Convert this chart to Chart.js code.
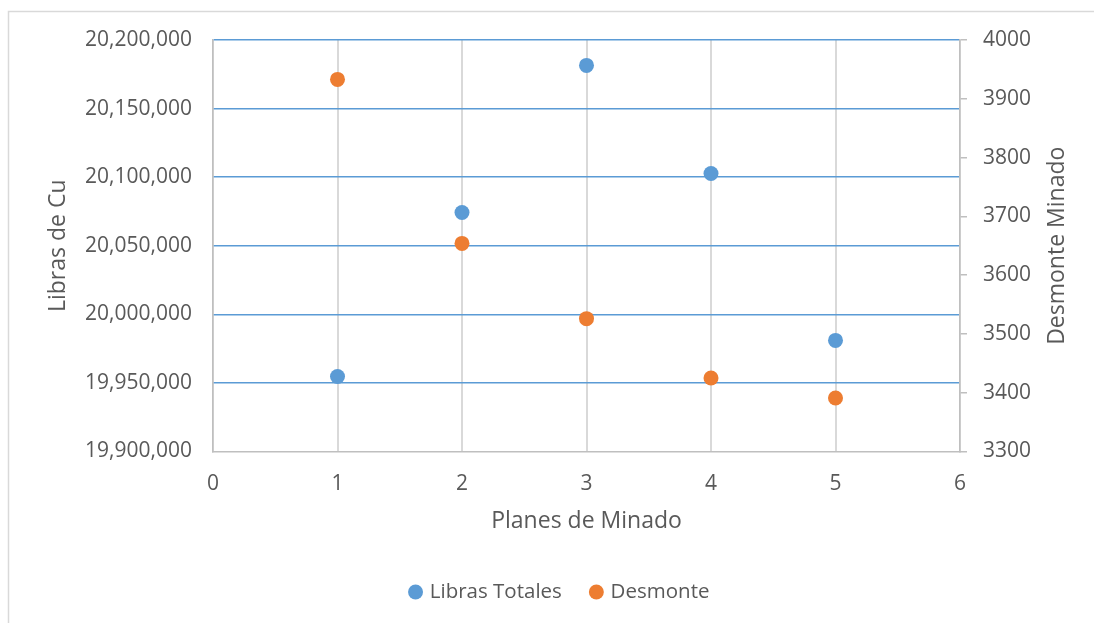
<!DOCTYPE html>
<html>
<head>
<meta charset="utf-8">
<script src="https://cdn.jsdelivr.net/npm/chart.js@4/dist/chart.umd.min.js"></script>
<style>
  html, body { margin: 0; padding: 0; background: #ffffff; }
  #wrap { width: 1094px; height: 623px; position: relative; }
</style>
</head>
<body>
<div id="wrap"><canvas id="c" width="1094" height="623"></canvas></div>
<script>
// Planes de minado (eje X)
const planes = [1, 2, 3, 4, 5];
// Libras totales de cobre por plan (eje izquierdo)
const librasTotales = [19954700, 20074200, 20181500, 20102700, 19981000];
// Desmonte minado por plan (eje derecho)
const desmonte = [3933, 3654, 3526, 3425, 3391];

const xTicks = [0, 1, 2, 3, 4, 5, 6];
const leftTicks = [19900000, 19950000, 20000000, 20050000, 20100000, 20150000, 20200000];
const rightTicks = [3300, 3400, 3500, 3600, 3700, 3800, 3900, 4000];

const serieNames = ['Libras Totales', 'Desmonte'];
const axisTitles = { x: 'Planes de Minado', y: 'Libras de Cu', y1: 'Desmonte Minado' };

const BLUE = '#5B9BD5';
const ORANGE = '#ED7D31';
const TEXT = '#595959';
const AXIS = '#BFBFBF';
const GRID = '#D9D9D9';
const FONT = "'Open Sans', 'Liberation Sans', sans-serif";
const TICK_FONT = { family: FONT, size: 21 };
const TITLE_FONT = { family: FONT, size: 23 };

const fmt = v => Number(v).toLocaleString('en-US');

// Outer chart frame and right-hand axis title (reads bottom to top)
const decorations = {
  id: 'decorations',
  beforeDraw(chart) {
    const ctx = chart.ctx;
    ctx.save();
    ctx.strokeStyle = GRID;
    ctx.lineWidth = 1.5;
    ctx.beginPath();
    ctx.moveTo(8.5, chart.height);
    ctx.lineTo(8.5, 11.5);
    ctx.lineTo(chart.width, 11.5);
    ctx.stroke();
    ctx.restore();
  },
  afterDraw(chart) {
    const s = chart.scales.y1;
    const ctx = chart.ctx;
    ctx.save();
    ctx.translate(s.right - 37, (s.top + s.bottom) / 2);
    ctx.rotate(-Math.PI / 2);
    ctx.fillStyle = TEXT;
    ctx.font = TITLE_FONT.size + "px " + FONT;
    ctx.textAlign = 'center';
    ctx.textBaseline = 'middle';
    ctx.fillText(axisTitles.y1, 0, 0);
    ctx.restore();
  }
};

new Chart(document.getElementById('c'), {
  type: 'scatter',
  data: {
    datasets: [
      {
        label: serieNames[0],
        data: planes.map((p, i) => ({ x: p, y: librasTotales[i] })),
        yAxisID: 'y',
        backgroundColor: BLUE,
        borderColor: BLUE,
        borderWidth: 0,
        pointRadius: 7.5,
        pointHoverRadius: 7.5
      },
      {
        label: serieNames[1],
        data: planes.map((p, i) => ({ x: p, y: desmonte[i] })),
        yAxisID: 'y1',
        backgroundColor: ORANGE,
        borderColor: ORANGE,
        borderWidth: 0,
        pointRadius: 7.5,
        pointHoverRadius: 7.5
      }
    ]
  },
  options: {
    responsive: false,
    animation: false,
    events: [],
    layout: { padding: { top: 40, left: 27, right: 0, bottom: 10.75 } },
    plugins: {
      tooltip: { enabled: false },
      legend: {
        position: 'bottom',
        labels: {
          usePointStyle: true,
          pointStyle: 'circle',
          boxWidth: 8,
          boxHeight: 10.6,
          padding: 30.5,
          color: TEXT,
          font: { family: FONT, size: 20.5 }
        }
      }
    },
    scales: {
      x: {
        type: 'linear',
        min: 0,
        max: 6,
        afterBuildTicks: s => { s.ticks = xTicks.map(v => ({ value: v })); },
        afterFit: s => { s.height = 99.75; },
        ticks: { color: TEXT, font: TICK_FONT, padding: 20 },
        grid: { color: GRID, lineWidth: 2, drawTicks: false },
        border: { color: AXIS, width: 1.5 },
        title: {
          display: true,
          text: axisTitles.x,
          color: TEXT,
          font: TITLE_FONT,
          padding: { top: 0, bottom: 15.5 }
        }
      },
      y: {
        position: 'left',
        min: 19900000,
        max: 20200000,
        afterBuildTicks: s => { s.ticks = leftTicks.map(v => ({ value: v })); },
        afterFit: s => { s.width = 186; },
        ticks: { color: TEXT, font: TICK_FONT, padding: 21, callback: v => fmt(v) },
        grid: {
          color: c => (c.tick && c.tick.value === 19900000 ? 'rgba(0,0,0,0)' : BLUE),
          lineWidth: 1.5,
          drawTicks: false
        },
        border: { color: AXIS, width: 1.5 },
        title: {
          display: true,
          text: axisTitles.y,
          color: TEXT,
          font: TITLE_FONT,
          padding: { top: 17.2, bottom: 0 }
        }
      },
      y1: {
        position: 'right',
        min: 3300,
        max: 4000,
        afterBuildTicks: s => { s.ticks = rightTicks.map(v => ({ value: v })); },
        afterFit: s => { s.width = 134; },
        ticks: { color: TEXT, font: TICK_FONT, padding: 16, callback: v => String(v) },
        grid: { drawOnChartArea: false, drawTicks: true, tickLength: 7, color: AXIS, lineWidth: 1.5 },
        border: { color: AXIS, width: 1.5 }
      }
    }
  },
  plugins: [decorations]
});
</script>
</body>
</html>
